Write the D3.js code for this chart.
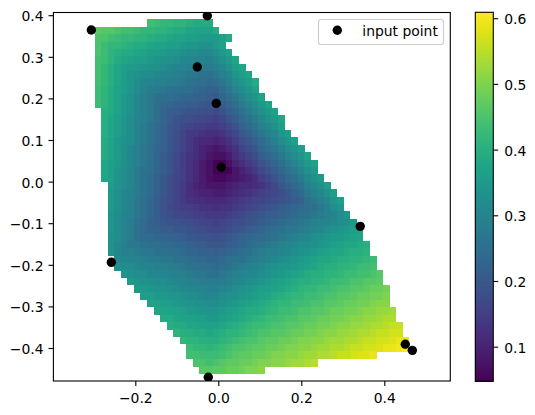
<!DOCTYPE html>
<html><head><meta charset="utf-8">
<script src="https://cdn.jsdelivr.net/npm/d3@7/dist/d3.min.js"></script>
<style>html,body{margin:0;padding:0;background:#fff}svg{display:block}
text{font-family:"DejaVu Sans",sans-serif;font-size:13.9px;fill:#000}</style></head>
<body><svg id="c" width="535" height="415"></svg>
<script>
const pointX=[-0.306,-0.0265,-0.0506,-0.0048,0.0072,0.342,0.4506,0.4675,-0.2578,-0.0241];
const pointY=[0.3644,0.3988,0.2755,0.188,0.0346,-0.1075,-0.391,-0.4056,-0.194,-0.4704];
const gridXRange=[-0.306,0.4675];
const gridYRange=[0.3988,-0.4704];
const gridCount=50;
const xTicks=[-0.2,0,0.2,0.4];
const yTicks=[-0.4,-0.3,-0.2,-0.1,0,0.1,0.2,0.3,0.4];
const cbTicks=[0.1,0.2,0.3,0.4,0.5,0.6];
const zDomain=[0.0473,0.609];
const xLimits=[-0.3964,0.5588];
const yLimits=[0.4077,-0.4793];
const legendLabel="input point";
// first filled column of each grid row (row 0 and row 49 are empty)
const rowFirst=[null,9,1,1,1,1,1,1,1,1,1,1,1,2,2,2,2,2,2,2,2,2,2,3,3,3,3,3,3,3,3,3,3,4,4,5,6,7,8,9,10,11,12,13,14,15,15,16,17,null];
// cell values in hundredths, row by row
const zRows=[
[],
[44,43,42,42,41,41,40,39,39,39],
[47,46,46,45,44,44,43,42,42,41,41,40,39,39,38,37,37,37,39],
[45,45,44,43,42,42,41,41,40,39,39,38,37,37,36,36,35,35,35,37,39],
[45,43,42,42,41,40,39,39,38,37,37,36,36,35,34,34,33,33,35,37],
[45,43,41,40,39,39,38,37,36,36,35,34,34,33,32,32,31,31,33,35,37],
[44,43,41,39,38,37,36,36,35,34,33,33,32,31,31,30,30,29,31,33,35,38],
[44,42,40,38,36,35,35,34,33,33,32,31,30,30,29,28,28,28,29,31,33,36,38],
[44,42,40,38,36,34,33,32,32,31,30,30,29,28,27,27,26,26,27,29,31,34,36,38],
[44,42,40,38,36,34,32,31,30,29,29,28,28,27,26,25,25,24,25,27,29,32,34,36,39],
[43,41,39,37,36,34,32,30,28,28,27,26,26,25,25,24,23,22,22,25,27,30,32,34,37],
[43,41,39,37,35,33,31,29,27,26,25,25,24,23,23,22,22,21,20,23,25,27,30,32,34,37],
[43,41,39,37,35,33,31,29,27,25,24,23,22,22,21,21,20,19,19,21,23,25,28,30,32,35,37],
[40,39,37,35,33,31,29,27,25,23,21,21,20,19,19,18,18,17,19,21,23,26,28,30,33,35,37],
[40,38,36,34,32,30,29,27,25,23,21,19,18,18,17,17,16,15,17,19,21,24,26,28,31,33,35,38],
[40,38,36,34,32,30,28,26,24,22,20,19,17,16,15,15,14,14,15,17,19,22,24,26,29,31,33,36],
[40,38,36,34,32,30,28,26,24,22,20,18,16,14,14,13,12,12,13,15,17,20,22,24,27,29,31,34,36],
[39,37,35,33,32,30,28,26,24,22,20,18,16,14,12,11,11,10,11,13,15,18,20,22,24,27,29,32,34,36],
[39,37,35,33,31,29,27,25,23,22,20,18,16,14,12,10,9,8,9,11,13,16,18,20,23,25,27,29,32,34,36],
[39,37,35,33,31,29,27,25,23,21,19,17,15,13,12,10,8,7,7,9,12,14,16,18,21,23,25,27,30,32,34,37],
[38,36,35,33,31,29,27,25,23,21,19,17,15,13,11,9,7,5,5,7,10,12,14,16,19,21,23,25,28,30,32,35,37],
[38,36,34,32,30,28,26,25,23,21,19,17,15,13,11,9,7,5,5,5,8,10,12,14,17,19,21,23,26,28,30,33,35],
[38,36,34,32,30,28,26,24,22,20,18,16,15,13,11,9,7,6,6,7,8,9,10,12,15,17,19,21,24,26,28,31,33,35],
[36,34,32,30,28,26,24,22,20,18,16,14,12,10,9,8,8,8,9,10,11,11,12,13,15,17,20,22,24,26,29,31,33,36],
[35,33,31,29,28,26,24,22,20,18,16,14,12,11,10,10,9,9,10,11,12,13,14,15,16,17,18,20,22,24,27,29,31,33,36],
[35,33,31,29,27,25,23,21,19,18,16,14,13,12,12,11,11,11,12,13,14,15,16,16,17,18,19,20,21,22,25,27,29,31,34,36],
[35,33,31,29,27,25,23,21,19,17,16,15,15,14,13,13,12,13,13,14,15,16,17,18,19,20,21,22,23,24,25,25,27,29,32,34],
[34,32,30,29,27,25,23,21,19,18,17,17,16,15,15,14,14,14,15,16,17,18,19,20,21,21,22,23,24,25,26,27,28,29,30,32,34],
[34,32,30,28,26,24,22,21,20,19,19,18,18,17,16,16,15,16,17,18,18,19,20,21,22,23,24,25,26,27,28,29,30,30,31,32,33,35],
[34,32,30,28,26,24,22,22,21,21,20,20,19,18,18,17,17,17,18,19,20,21,22,23,24,25,26,27,27,28,29,30,31,32,33,34,35,36,36],
[33,32,30,28,26,24,24,23,23,22,22,21,20,20,19,19,18,19,20,21,22,23,24,24,25,26,27,28,29,30,31,32,33,34,35,35,36,37,38],
[33,31,29,27,27,26,25,25,24,24,23,23,22,21,21,20,20,20,21,22,23,24,25,26,27,28,29,30,31,32,32,33,34,35,36,37,38,38,39,40],
[33,31,29,29,28,27,27,26,26,25,25,24,23,23,22,22,21,22,23,24,25,26,27,28,29,29,30,31,32,33,34,35,36,37,38,38,39,40,40,41],
[31,31,30,30,29,28,28,27,27,26,26,25,24,24,23,23,24,25,26,26,27,28,29,30,31,32,33,34,35,36,37,38,38,39,40,40,41,41,42,43],
[33,32,32,31,30,30,29,29,28,28,27,26,26,25,25,24,25,26,27,28,29,30,31,32,33,34,34,35,36,37,38,39,40,40,41,41,42,43,43,44],
[34,33,32,32,31,31,30,30,29,29,28,27,27,26,26,27,28,29,30,31,31,32,33,34,35,36,37,38,39,40,40,41,41,42,43,43,44,44,45,46],
[35,34,33,33,32,32,31,31,30,29,29,28,28,28,28,29,30,31,32,33,34,35,36,37,38,39,40,40,41,41,42,43,43,44,45,45,46,46,47],
[35,35,34,34,33,33,32,31,31,30,30,29,29,30,31,32,33,34,35,36,36,37,38,39,40,41,42,42,43,43,44,45,45,46,46,47,48,48,49],
[36,36,35,35,34,34,33,32,32,31,31,31,32,33,33,34,35,36,37,38,39,40,41,42,42,43,43,44,45,45,46,46,47,48,48,49,49,50],
[37,37,36,36,35,34,34,33,33,32,32,33,34,35,36,37,38,39,40,41,42,42,43,43,44,45,45,46,46,47,48,48,49,49,50,51,51],
[38,38,37,37,36,35,35,34,34,34,35,36,37,38,39,39,40,41,42,43,43,44,45,45,46,46,47,48,48,49,49,50,51,51,52,52,53],
[39,39,38,37,37,36,36,35,35,36,37,38,39,40,41,42,43,43,44,45,45,46,46,47,48,48,49,49,50,51,51,52,52,53,54,54],
[40,39,39,38,38,37,37,37,38,39,40,41,42,43,43,44,45,45,46,46,47,48,48,49,49,50,51,51,52,52,53,54,54,55,56,56],
[41,40,40,39,39,38,39,40,41,41,42,43,44,45,45,46,46,47,48,48,49,49,50,51,51,52,52,53,54,54,55,56,56,57,57],
[42,41,41,40,40,40,41,42,43,44,45,45,46,47,47,48,48,49,50,50,51,51,52,53,53,54,54,55,56,56,57,57,58,59,59],
[43,42,42,41,42,43,44,45,45,46,47,47,48,48,49,50,50,51,51,52,53,53,54,54,55,56,56,57,57,58,59,59,60,61],
[44,44,43,43,43,44,45,46,47,47,48,48,49,50,50,51,51,52,53,53,54,54,55,56,56,57,58,58,59],
[45,45,44,45,46,47,47,48,48,49,50,50,51,51,52,53,53,54,55],
[46,46,47,47,48,48,49,50,50,51],
[]
];

const box={left:53.8,right:450.2,top:12,bottom:381};
const frame={left:53.4,right:450.3,top:12.5,bottom:381};
const cb={left:475.3,right:493.3,top:12.3,bottom:381.3};
const svg=d3.select("#c");
const x=d3.scaleLinear().domain(xLimits).range([box.left,box.right]);
const y=d3.scaleLinear().domain(yLimits).range([box.top,box.bottom]);
const color=d3.scaleSequential(d3.interpolateViridis).domain(zDomain);
const gx=d3.scaleLinear().domain([0,gridCount-1]).range(gridXRange);
const gy=d3.scaleLinear().domain([0,gridCount-1]).range(gridYRange);

svg.append("defs").append("clipPath").attr("id","ax").append("rect")
  .attr("x",frame.left).attr("y",frame.top).attr("width",frame.right-frame.left).attr("height",frame.bottom-frame.top);

const cells=[];
zRows.forEach((row,j)=>row.forEach((v,k)=>cells.push({i:rowFirst[j]+k,j,v:v/100})));
svg.append("g").attr("shape-rendering","crispEdges").selectAll("rect").data(cells).join("rect")
  .attr("x",d=>x(gx(d.i-0.5)))
  .attr("y",d=>y(gy(d.j-0.5)))
  .attr("width",d=>x(gx(d.i+0.5))-x(gx(d.i-0.5))+0.3)
  .attr("height",d=>y(gy(d.j+0.5))-y(gy(d.j-0.5))+0.3)
  .attr("fill",d=>color(d.v));

svg.append("g").attr("clip-path","url(#ax)").selectAll("circle").data(pointX).join("circle")
  .attr("cx",d=>x(d)).attr("cy",(d,i)=>y(pointY[i])).attr("r",4.7).attr("fill","#000");

// legend
const lg=svg.append("g");
lg.append("rect").attr("x",318.5).attr("y",19.5).attr("width",125).attr("height",25).attr("rx",2.8)
  .attr("fill","#fff").attr("fill-opacity",0.8).attr("stroke","#ccc").attr("stroke-width",1.1);
lg.append("circle").attr("cx",337.3).attr("cy",30.3).attr("r",4.7).attr("fill","#000");
lg.append("text").attr("x",362.3).attr("y",36).text(legendLabel);

// axes
const fmt=d=>d3.format(".1f")(d).replace("-","\u2212");
const axB=svg.append("g").attr("transform",`translate(0,${frame.bottom})`)
  .call(d3.axisBottom(x).tickValues(xTicks).tickFormat(fmt).tickSize(4.9).tickPadding(6.9));
const axL=svg.append("g").attr("transform",`translate(${frame.left},0)`)
  .call(d3.axisLeft(y).tickValues(yTicks).tickFormat(fmt).tickSize(4.9).tickPadding(4.9));
axL.selectAll("text").attr("dy","0.39em");
[axB,axL].forEach(a=>{a.select(".domain").remove();a.attr("font-family",null).attr("font-size",null);
  a.selectAll("line").attr("stroke","#000").attr("stroke-width",1.1);});

svg.append("rect").attr("x",frame.left).attr("y",frame.top).attr("width",frame.right-frame.left).attr("height",frame.bottom-frame.top)
  .attr("fill","none").attr("stroke","#000").attr("stroke-width",1.1);

// colorbar
const cy=d3.scaleLinear().domain(zDomain).range([cb.bottom,cb.top]);
const levels=d3.range(256);
const levelValue=d3.scaleLinear().domain([0,256]).range(zDomain);
svg.append("g").attr("shape-rendering","crispEdges").selectAll("rect").data(levels).join("rect")
  .attr("x",cb.left).attr("width",cb.right-cb.left)
  .attr("y",d=>cy(levelValue(d+1)))
  .attr("height",d=>cy(levelValue(d))-cy(levelValue(d+1))+0.5)
  .attr("fill",d=>color(levelValue(d+0.5)));
svg.append("rect").attr("x",cb.left).attr("y",cb.top).attr("width",cb.right-cb.left).attr("height",cb.bottom-cb.top)
  .attr("fill","none").attr("stroke","#000").attr("stroke-width",1.1);
const axC=svg.append("g").attr("transform",`translate(${cb.right},0)`)
  .call(d3.axisRight(cy).tickValues(cbTicks).tickFormat(fmt).tickSize(4.9).tickPadding(6));
axC.selectAll("text").attr("dy","0.39em");
axC.select(".domain").remove();axC.attr("font-family",null).attr("font-size",null);
axC.selectAll("line").attr("stroke","#000").attr("stroke-width",1.1);
</script></body></html>
